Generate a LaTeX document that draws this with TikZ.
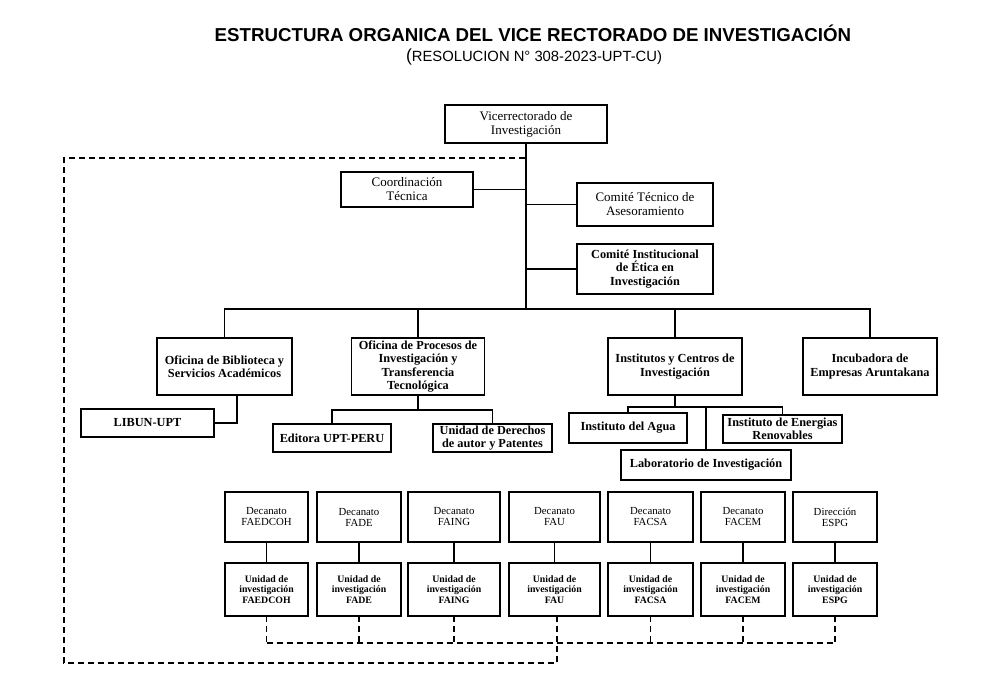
\documentclass[tikz,border=0pt]{standalone}
\usepackage{fontspec}
\setmainfont{Liberation Serif}
\newfontfamily\titlefont{Liberation Sans}
\begin{document}
\begin{tikzpicture}[x=1pt,y=-1pt,
  every node/.style={inner sep=0pt,outer sep=0pt},
  box/.style={draw,line width=1.4pt,align=center,fill=white,
    font=\fontsize{13}{14}\selectfont},
  boxb/.style={box,font=\bfseries\fontsize{12.3}{13.4}\selectfont},
  dbox/.style={draw,line width=1.4pt,align=center,minimum width=#1,minimum height=50pt,
    font=\fontsize{10.8}{11}\selectfont},
  ubox/.style={draw,line width=1.4pt,align=center,minimum width=#1,minimum height=53pt,
    font=\bfseries\fontsize{9.8}{10.4}\selectfont},
  conn/.style={line width=1.4pt},
  dconn/.style={line width=1.6pt,dash pattern=on 6pt off 4pt}]
\useasboundingbox (0,0) rectangle (1000,674);

% titles
\node (title) at (533,33) {\titlefont\bfseries\fontsize{18.7}{20}\selectfont ESTRUCTURA ORGANICA DEL VICE RECTORADO DE INVESTIGACIÓN};
\node (sub) at (534,57) {\titlefont\fontsize{14.8}{16}\selectfont{\fontsize{17.5}{17}\selectfont(}RESOLUCION N° 308-2023-UPT-CU)};

% top
\node[box,minimum width=162pt,minimum height=38pt] (vr) at (526,124) {Vicerrectorado de\\Investigación};
\node[box,minimum width=132pt,minimum height=35pt] (coord) at (407,189.5) {Coordinación\\Técnica};
\node[box,minimum width=136pt,minimum height=43pt] (ctec) at (645,204.5) {Comité Técnico de\\Asesoramiento};
\node[boxb,minimum width=136pt,minimum height=50pt] (cie) at (645,269) {Comité Institucional\\de Ética en\\Investigación};

% second level
\node[boxb,minimum width=135pt,minimum height=57pt] (bib) at (224.5,366.5) {Oficina de Biblioteca y\\Servicios Académicos};
\node[boxb,minimum width=133pt,minimum height=57pt] (proc) at (418,366.5) {Oficina de Procesos de\\Investigación y\\Transferencia\\Tecnológica};
\node[boxb,minimum width=134pt,minimum height=57pt] (inst) at (675,366.5) {Institutos y Centros de\\Investigación};
\node[boxb,minimum width=134pt,minimum height=57pt] (incu) at (870,366.5) {Incubadora de\\Empresas Aruntakana};

% third level
\node[boxb,minimum width=133pt,minimum height=28pt] (libun) at (147.5,423) {LIBUN-UPT};
\node[boxb,minimum width=118pt,minimum height=28pt] (edit) at (332,438) {Editora UPT-PERU};
\node[boxb,minimum width=119pt,minimum height=28pt] (uder) at (492.5,438) {Unidad de Derechos\\de autor y Patentes};
\node[boxb,minimum width=118pt,minimum height=30pt] (agua) at (628,428) {Instituto del Agua};
\node[boxb,minimum width=119pt,minimum height=28pt] (ener) at (782.5,429) {Instituto de Energias\\Renovables};
\node[boxb,minimum width=170pt,minimum height=30pt] (lab) at (706,465) {Laboratorio de Investigación};

% faculties
\node[dbox=83pt] (d1) at (266.5,517) {Decanato\\FAEDCOH};
\node[dbox=84pt] (d2) at (359,517) {Decanato\\FADE};
\node[dbox=92pt] (d3) at (454,517) {Decanato\\FAING};
\node[dbox=91pt] (d4) at (554.5,517) {Decanato\\FAU};
\node[dbox=85pt] (d5) at (650.5,517) {Decanato\\FACSA};
\node[dbox=84pt] (d6) at (743,517) {Decanato\\FACEM};
\node[dbox=84pt] (d7) at (835,517) {Dirección\\ESPG};

\node[ubox=83pt] (u1) at (266.5,589.5) {Unidad de\\investigación\\FAEDCOH};
\node[ubox=84pt] (u2) at (359,589.5) {Unidad de\\investigación\\FADE};
\node[ubox=92pt] (u3) at (454,589.5) {Unidad de\\investigación\\FAING};
\node[ubox=91pt] (u4) at (554.5,589.5) {Unidad de\\investigación\\FAU};
\node[ubox=85pt] (u5) at (650.5,589.5) {Unidad de\\investigación\\FACSA};
\node[ubox=84pt] (u6) at (743,589.5) {Unidad de\\investigación\\FACEM};
\node[ubox=84pt] (u7) at (835,589.5) {Unidad de\\investigación\\ESPG};

% helper coordinates
\coordinate (bus) at (526,309);
\coordinate (pj) at (418,410);
\coordinate (ij) at (675,407);
\coordinate (db) at (0,643);
\coordinate (dl) at (64,663);
\coordinate (dt) at (64,158);

% solid connectors
\draw[conn] (vr.south) -- (bus);
\draw[conn] (coord.east) -- (coord.east -| vr.south);
\draw[conn] (ctec.west) -- (ctec.west -| vr.south);
\draw[conn] (cie.west) -- (cie.west -| vr.south);
\draw[conn] (bib.north) -- (bib.north |- bus) -- (incu.north |- bus) -- (incu.north);
\draw[conn] (proc.north) -- (proc.north |- bus);
\draw[conn] (inst.north) -- (inst.north |- bus);
\draw[conn] ([xshift=12.5pt]bib.south) |- (libun.east);
\draw[conn] (proc.south) -- (pj);
\draw[conn] (edit.north) -- (edit.north |- pj) -- (uder.north |- pj) -- (uder.north);
\draw[conn] (inst.south) -- (ij);
\draw[conn] (agua.north) -- (agua.north |- ij) -- (ener.north |- ij) -- (ener.north);
\draw[conn] (lab.north) -- (lab.north |- ij);
\foreach \i in {1,...,7} \draw[conn] (d\i.south) -- (u\i.north);

% dashed connectors
\foreach \i in {1,2,3,5,6,7} \draw[dconn] (u\i.south) -- (u\i.south |- db);
\draw[dconn] (u1.south |- db) -- (u7.south |- db);
\draw[dconn] ([xshift=2.5pt]u4.south) -- ([xshift=2.5pt]u4.south |- dl) -- (dl) -- (dt) -- (dt -| vr.south);
\end{tikzpicture}
\end{document}
